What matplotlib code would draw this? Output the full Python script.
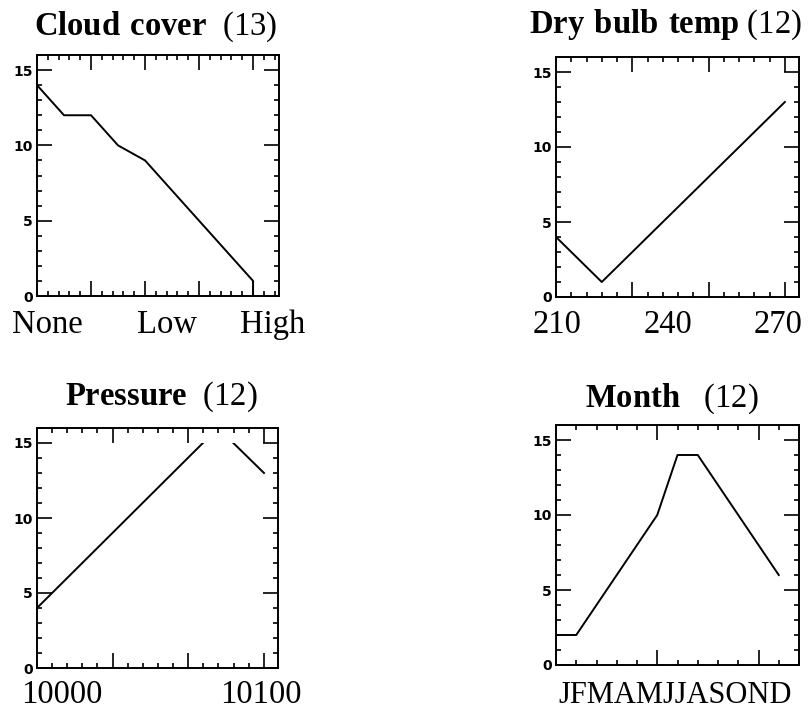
import numpy as np
import matplotlib
matplotlib.use("Agg")
import matplotlib.pyplot as plt
from matplotlib.patches import Rectangle
from matplotlib.ticker import MultipleLocator, FixedLocator

plt.rcParams['mathtext.fontset'] = 'custom'
plt.rcParams['mathtext.rm'] = 'Liberation Serif'
plt.rcParams['mathtext.bf'] = 'Liberation Serif:bold'

# ---------------- data ----------------
cloud_x = [0, 0.5, 1, 1.5, 2, 4, 4]
cloud_y = [14, 12, 12, 10, 9, 1, 0]
cloud_labels = ["None", "Low", "High"]

temp_x = [210, 222, 270]
temp_y = [4, 1, 13]
temp_labels = ["210", "240", "270"]

press_x = [9986.5, 10077, 10100]
press_y = [4, 16, 13]
press_labels = ["10000", "10100"]

month_x = [1, 2, 3, 4, 5, 6, 7, 8, 9, 10, 11, 12]
month_y = [2, 2, 4, 6, 8, 10, 14, 14, 12, 10, 8, 6]
month_label = "JFMAMJJASOND"

titles = [r"$\mathbf{Cloud\ cover}$  (13)",
          r"$\mathbf{Dry\ bulb\ temp}$ (12)",
          r"$\mathbf{Pressure}$  (12)",
          r"$\mathbf{Month}$   (12)"]

W, H = 810, 713
fig = plt.figure(figsize=(W / 100, H / 100), dpi=100)


def add_ax(l, t, r, b):
    return fig.add_axes([l / W, 1 - b / H, (r - l) / W, (b - t) / H])


ax1 = add_ax(37, 55, 279, 296)
ax2 = add_ax(556, 57, 799, 297)
ax3 = add_ax(37, 428, 278, 668)
ax4 = add_ax(556, 425, 799, 665)

serif = 'Liberation Serif'
lab_fs = 23.5
title_fs = 23.5
LW = 1.4


def style(ax, xlim, xmaj, xmin_step):
    ax.set_ylim(0, 16)
    ax.set_xlim(*xlim)
    ax.yaxis.set_major_locator(FixedLocator([0, 5, 10, 15]))
    ax.yaxis.set_minor_locator(MultipleLocator(1))
    ax.xaxis.set_major_locator(FixedLocator(xmaj))
    mins = np.arange(xlim[0], xlim[1] + 1e-9, xmin_step)
    ax.xaxis.set_minor_locator(FixedLocator(mins))
    ax.tick_params(which='both', direction='in', top=True, right=True,
                   labelbottom=False, width=1.2, color='black')
    ax.tick_params(which='major', length=11)
    ax.tick_params(which='minor', length=3.5)
    ax.tick_params(axis='y', labelsize=10, pad=3)
    for lab in ax.get_yticklabels():
        lab.set_fontweight('bold')
        lab.set_family('DejaVu Sans')
    for s in ax.spines.values():
        s.set_linewidth(1.4)


def xlabels(ax, labels, fracs, gap, fs):
    for lab, fx in zip(labels, fracs):
        ax.text(fx, -gap / 240, lab, transform=ax.transAxes, ha='center',
                va='baseline', fontsize=fs, family=serif)


# Panel 1: Cloud cover
style(ax1, (0, 4.48), [1, 2, 3, 4], 0.2)
ax1.plot(cloud_x, cloud_y, color='black', lw=LW)
xlabels(ax1, cloud_labels, [0.041, 0.537, 0.972], 37, lab_fs)

# Panel 2: Dry bulb temp
style(ax2, (210, 273.7), [230, 250, 270], 4)
ax2.plot(temp_x, temp_y, color='black', lw=LW)
xlabels(ax2, temp_labels, [0.006, 0.46, 0.914], 36, lab_fs)

# Panel 3: Pressure
style(ax3, (9986.5, 10107), [9986.5 + 37.8 * k for k in (1, 2, 3)], 7.56)
ln, = ax3.plot(press_x, press_y, color='black', lw=LW)
clip = Rectangle((9986.5, 0), 130, 15, transform=ax3.transData,
                 facecolor='none', edgecolor='none')
ax3.add_patch(clip)
ln.set_clip_path(clip)
xlabels(ax3, press_labels, [0.104, 0.93], 35, lab_fs)

# Panel 4: Month
style(ax4, (1, 13), [6, 11], 1)
ax4.plot(month_x, month_y, color='black', lw=LW)
xlabels(ax4, [month_label], [0.49], 38, 22)

# Titles
for ax, t, fx, gap in zip([ax1, ax2, ax3, ax4], titles,
                          [0.49, 0.45, 0.515, 0.475], [20, 24, 23, 18]):
    ax.text(fx, 1 + gap / 240, t, transform=ax.transAxes, ha='center',
            va='baseline', fontsize=title_fs, family=serif)

fig.savefig("out.png", dpi=100)
